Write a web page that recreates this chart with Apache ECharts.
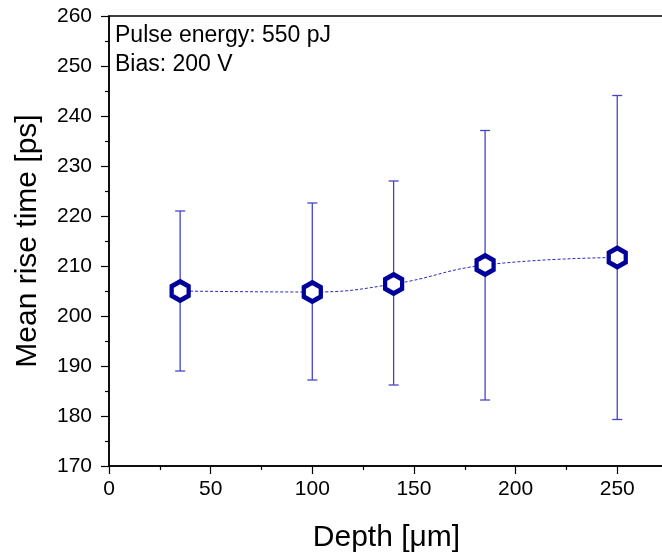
<!DOCTYPE html>
<html><head><meta charset="utf-8">
<script src="https://cdn.jsdelivr.net/npm/echarts@6/dist/echarts.min.js"></script>
<style>html,body{margin:0;padding:0;background:#fff;overflow:hidden}#c{width:662px;height:555px}</style>
</head><body><div id="c"></div>
<script>
const depth = [35, 100, 140, 185, 250];
const riseTime = [205.0, 204.8, 206.4, 210.2, 211.7];
const errLow = [189.0, 187.2, 186.2, 183.2, 179.3];
const errHigh = [221.0, 222.6, 227.0, 237.1, 244.1];
const xTicks = [0, 50, 100, 150, 200, 250];
const yTicks = [170, 180, 190, 200, 210, 220, 230, 240, 250, 260];
const notes = ['Pulse energy: 550 pJ', 'Bias: 200 V'];

const FONT = '"Liberation Sans", Arial, sans-serif';
const chart = echarts.init(document.getElementById('c'), null, {renderer: 'canvas'});
const hex = 'path://M0,-10 L8.66,-5 L8.66,5 L0,10 L-8.66,5 L-8.66,-5 Z';

const errData = depth.map((d, i) => [d, errLow[i], errHigh[i]]);

chart.setOption({
  animation: false,
  backgroundColor: '#fff',
  grid: {left: 109, top: 16, width: 555, height: 450, outerBoundsMode: 'none', containLabel: false,
    show: true, borderColor: '#000', borderWidth: 1.5, backgroundColor: 'transparent'},
  xAxis: {
    type: 'value', min: 0, max: 273, interval: 50,
    name: 'Depth [\u03bcm]', nameLocation: 'middle', nameGap: 57,
    nameTextStyle: {fontSize: 30, color: '#000', fontFamily: FONT},
    axisLine: {show: true, onZero: false, lineStyle: {color: '#000', width: 1.5}},
    axisTick: {show: true, inside: false, length: 8, lineStyle: {color: '#000', width: 1.2}},
    minorTick: {show: true, splitNumber: 2, length: 4, lineStyle: {color: '#000', width: 1.2}},
    axisLabel: {fontSize: 21, color: '#000', fontFamily: FONT, margin: 13, showMaxLabel: false,
      formatter: v => xTicks.includes(v) ? String(v) : ''},
    splitLine: {show: false}
  },
  yAxis: {
    type: 'value', min: 170, max: 260, interval: 10,
    name: 'Mean rise time [ps]', nameLocation: 'middle', nameGap: 66, nameRotate: 90,
    nameTextStyle: {fontSize: 30, color: '#000', fontFamily: FONT},
    axisLine: {show: true, onZero: false, lineStyle: {color: '#000', width: 1.5}},
    axisTick: {show: true, inside: false, length: 8, lineStyle: {color: '#000', width: 1.2}},
    minorTick: {show: true, splitNumber: 2, length: 4, lineStyle: {color: '#000', width: 1.2}},
    axisLabel: {fontSize: 21, color: '#000', fontFamily: FONT, margin: 17,
      formatter: v => yTicks.includes(v) ? String(v) : ''},
    splitLine: {show: false}
  },
  graphic: notes.map((t, i) => ({
    type: 'text', left: 115, top: 24.5 + i * 29, z: 100,
    style: {text: t, fill: '#000', font: '23px ' + FONT}
  })),
  series: [
    {
      type: 'custom', z: 2,
      data: errData,
      renderItem: function (params, api) {
        const x = api.value(0);
        const lo = api.coord([x, api.value(1)]);
        const hi = api.coord([x, api.value(2)]);
        const cw = 5;
        const st = {stroke: '#4545c8', lineWidth: 1.3};
        return {type: 'group', children: [
          {type: 'line', shape: {x1: lo[0], y1: lo[1], x2: hi[0], y2: hi[1]}, style: st},
          {type: 'line', shape: {x1: lo[0] - cw, y1: lo[1], x2: lo[0] + cw, y2: lo[1]}, style: st},
          {type: 'line', shape: {x1: hi[0] - cw, y1: hi[1], x2: hi[0] + cw, y2: hi[1]}, style: st}
        ]};
      }
    },
    {
      type: 'line', z: 5,
      data: depth.map((d, i) => [d, riseTime[i]]),
      smooth: 0.45,
      lineStyle: {color: '#2a2ab8', width: 1, type: [3, 2]},
      symbol: hex, symbolSize: [17, 19],
      itemStyle: {color: '#ffffff', borderColor: '#00009a', borderWidth: 4.5},
      emphasis: {disabled: true}
    }
  ]
});
</script></body></html>
